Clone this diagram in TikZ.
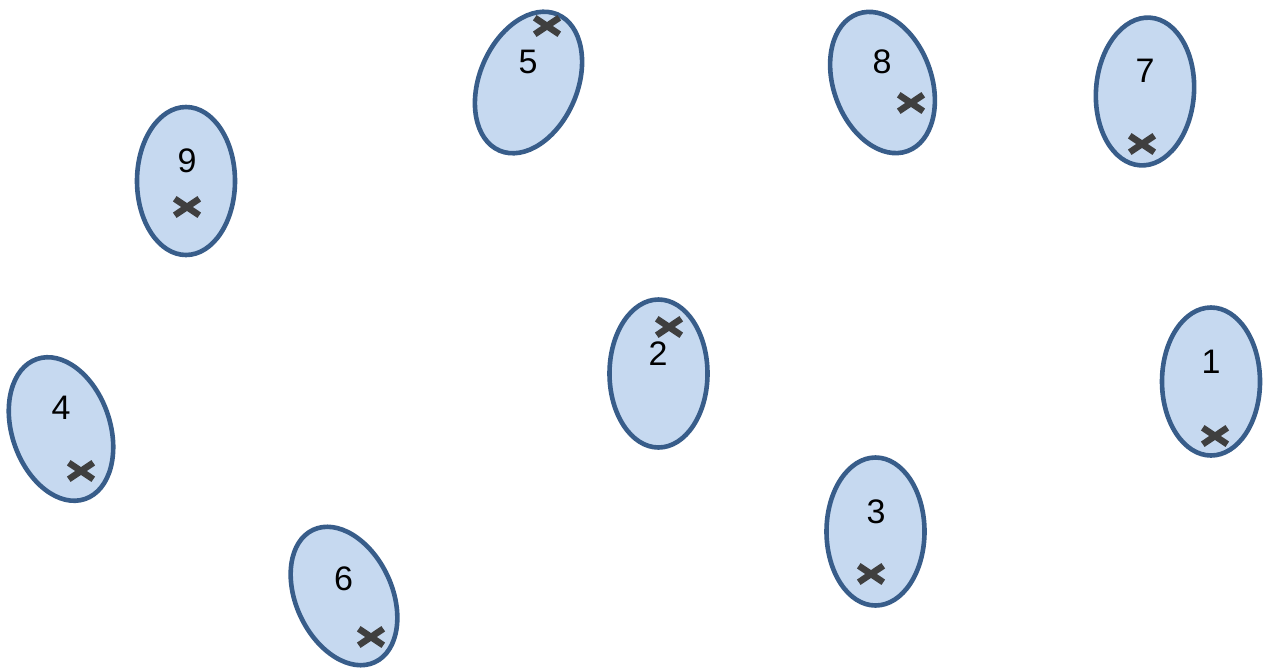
\documentclass[tikz,border=0pt]{standalone}
\usepackage{fontspec}
\setmainfont{Liberation Sans}
\usetikzlibrary{shapes.geometric,shapes.misc}
\definecolor{blobfill}{HTML}{C6D9F0}
\definecolor{blobline}{HTML}{385D8A}
\definecolor{xmark}{HTML}{3F3F3F}
\begin{document}
\begin{tikzpicture}[x=1pt,y=-1pt,
  blob/.style={ellipse,draw=blobline,fill=blobfill,line width=4.6pt,
    minimum width=98pt,minimum height=148pt,inner sep=0pt},
  lbl/.style={font=\fontsize{34}{37}\selectfont,inner sep=0pt,anchor=center},
  xm/.style={cross out,draw=xmark,line width=6.5pt,minimum width=18pt,
    minimum height=10pt,inner sep=0pt}]
\useasboundingbox (0,0) rectangle (1267,670);
% clusters
\node[blob] (e1) at (1211,381.5) {};
\node[blob] (e2) at (658.5,373.5) {};
\node[blob] (e3) at (875.5,531.5) {};
\node[blob,rotate=19] (e4) at (61,429) {};
\node[blob,rotate=-23] (e5) at (528.5,82.5) {};
\node[blob,rotate=25,minimum width=96pt,minimum height=146pt] (e6) at (344,596) {};
\node[blob,rotate=-4] (e7) at (1145,91.5) {};
\node[blob,rotate=20,minimum height=146pt] (e8) at (882.5,82.5) {};
\node[blob] (e9) at (186,181) {};
% labels
\node[lbl] (l1) at (1211,362) {1};
\node[lbl] (l2) at (658,354) {2};
\node[lbl] (l3) at (876,512) {3};
\node[lbl] (l4) at (61,408) {4};
\node[lbl] (l5) at (528,62) {5};
\node[lbl] (l6) at (343.5,579) {6};
\node[lbl] (l7) at (1145,71) {7};
\node[lbl] (l8) at (882,62) {8};
\node[lbl] (l9) at (187,161) {9};
% centroids
\node[xm] (c1) at (1215,436) {};
\node[xm] (c2) at (669,327) {};
\node[xm] (c3) at (871,574) {};
\node[xm] (c4) at (81,471) {};
\node[xm] (c5) at (547,26) {};
\node[xm] (c6) at (371,637) {};
\node[xm] (c7) at (1142,144) {};
\node[xm] (c8) at (911,103) {};
\node[xm] (c9) at (187,207) {};
\end{tikzpicture}
\end{document}
